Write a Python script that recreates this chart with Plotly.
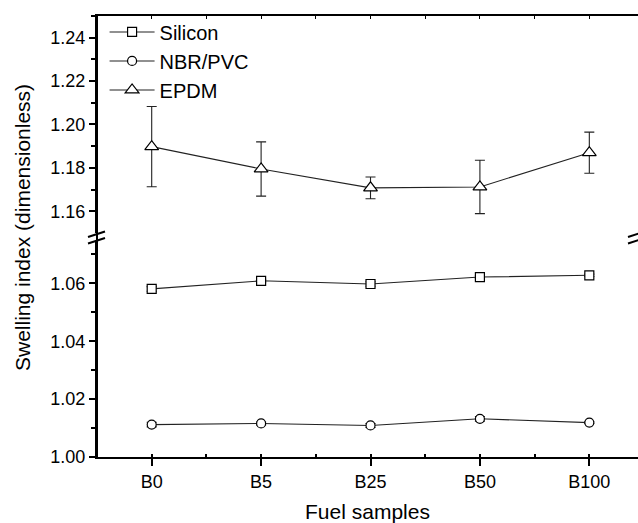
import plotly.graph_objects as go

categories = ["B0", "B5", "B25", "B50", "B100"]
silicon = [1.0581, 1.0609, 1.0598, 1.0622, 1.0628]
silicon_err = [0.0008, 0.0005, 0.0008, 0.0005, 0.0004]
nbr_pvc = [1.0112, 1.0116, 1.0109, 1.0132, 1.0119]
nbr_pvc_err = [0.0008, 0.0005, 0.0007, 0.0008, 0.0003]
epdm = [1.1898, 1.1795, 1.1708, 1.1712, 1.1870]
epdm_err = [0.0185, 0.0125, 0.0050, 0.0123, 0.0095]

xpos = list(range(len(categories)))
FONT = "Liberation Sans, Arial, sans-serif"
LINE_COL = "#222222"

fig = go.Figure()

def add(name, y, err, symbol, size, xa, ya):
    fig.add_trace(go.Scatter(
        x=xpos, y=y, name=name, mode="lines+markers",
        xaxis=xa, yaxis=ya,
        line=dict(color=LINE_COL, width=1.1),
        marker=dict(symbol=symbol, size=size, color="white",
                    line=dict(color="black", width=1.2)),
        error_y=dict(type="data", array=err, visible=True,
                     color="#222222", thickness=1.1, width=5),
    ))

add("Silicon", silicon, silicon_err, "square", 9, "x", "y")
add("NBR/PVC", nbr_pvc, nbr_pvc_err, "circle", 9, "x", "y")
add("EPDM", epdm, epdm_err, "triangle-up", 12, "x2", "y2")

xr = [-0.5, 4.445]
fig.update_layout(
    width=638, height=523,
    margin=dict(l=97, r=0, t=16, b=66),
    paper_bgcolor="white", plot_bgcolor="white",
    font=dict(family=FONT, size=18, color="black"),
    showlegend=True,
    legend=dict(x=0.014, y=1.008, xanchor="left", yanchor="top",
                bgcolor="rgba(0,0,0,0)", font=dict(size=20, family=FONT),
                itemwidth=45, tracegroupgap=0),
    xaxis=dict(range=xr, tickvals=xpos, ticktext=categories,
               anchor="y", showline=True, linecolor="black", linewidth=2,
               ticks="outside", ticklen=7, tickwidth=1.5, tickcolor="black",
               showgrid=False, zeroline=False,
               tickfont=dict(size=18),
               minor=dict(ticks="inside", ticklen=3, dtick=0.5, tick0=0.5,
                          tickcolor="black", showgrid=False),
               title=dict(text="Fuel samples", font=dict(size=21), standoff=15)),
    xaxis2=dict(range=xr, anchor="y2", side="top", matches="x",
                showline=True, linecolor="black", linewidth=2,
                showticklabels=False, ticks="inside", ticklen=3,
                tickvals=[-0.5, 0, 0.5, 1, 1.5, 2, 2.5, 3, 3.5, 4],
                tickcolor="black", showgrid=False, zeroline=False),
    yaxis=dict(domain=[0, 0.492], range=[1.0, 1.075],
               tickvals=[1.00, 1.02, 1.04, 1.06],
               ticktext=["1.00", "1.02", "1.04", "1.06"],
               showline=True, linecolor="black", linewidth=2,
               ticks="outside", ticklen=6, tickwidth=1.5, tickcolor="black",
               minor=dict(ticks="outside", ticklen=4, tickvals=[1.01, 1.03, 1.05, 1.07],
                          tickcolor="black", showgrid=False),
               showgrid=False, zeroline=False, tickfont=dict(size=18),
               anchor="x"),
    yaxis2=dict(domain=[0.508, 1.0], range=[1.15, 1.25],
                tickvals=[1.16, 1.18, 1.20, 1.22, 1.24],
                ticktext=["1.16", "1.18", "1.20", "1.22", "1.24"],
                showline=True, linecolor="black", linewidth=2,
                ticks="outside", ticklen=6, tickwidth=1.5, tickcolor="black",
                minor=dict(ticks="outside", ticklen=4,
                           tickvals=[1.17, 1.19, 1.21, 1.23, 1.25],
                           tickcolor="black", showgrid=False),
                showgrid=False, zeroline=False, tickfont=dict(size=18),
                anchor="x2"),
)

# y-axis title spanning both segments
fig.add_annotation(text="Swelling index (dimensionless)", xref="paper", yref="paper",
                   x=-0.138, y=0.52, textangle=-90, showarrow=False,
                   font=dict(size=21, family=FONT), xanchor="center", yanchor="middle")

# continuous left spine across the break
fig.add_shape(type="line", xref="paper", yref="paper", x0=0, x1=0, y0=0, y1=1,
              line=dict(color="black", width=2))

# break marks (left and right)
W = 541.0
H = 441.0
def px(xp):
    return (xp - 97) / W
def py(yp):
    return (457 - yp) / H
for (x0, y0, x1, y1) in [(88, 237, 105, 231.5), (88, 243.5, 105, 238),
                         (628, 237, 645, 231.5), (628, 243.5, 645, 238)]:
    fig.add_shape(type="line", xref="paper", yref="paper",
                  x0=px(x0), y0=py(y0), x1=px(x1), y1=py(y1),
                  line=dict(color="black", width=2))

fig.write_html("out.html", config={"displayModeBar": False},
               post_script="document.body.style.margin='0';document.body.style.overflow='hidden';")
